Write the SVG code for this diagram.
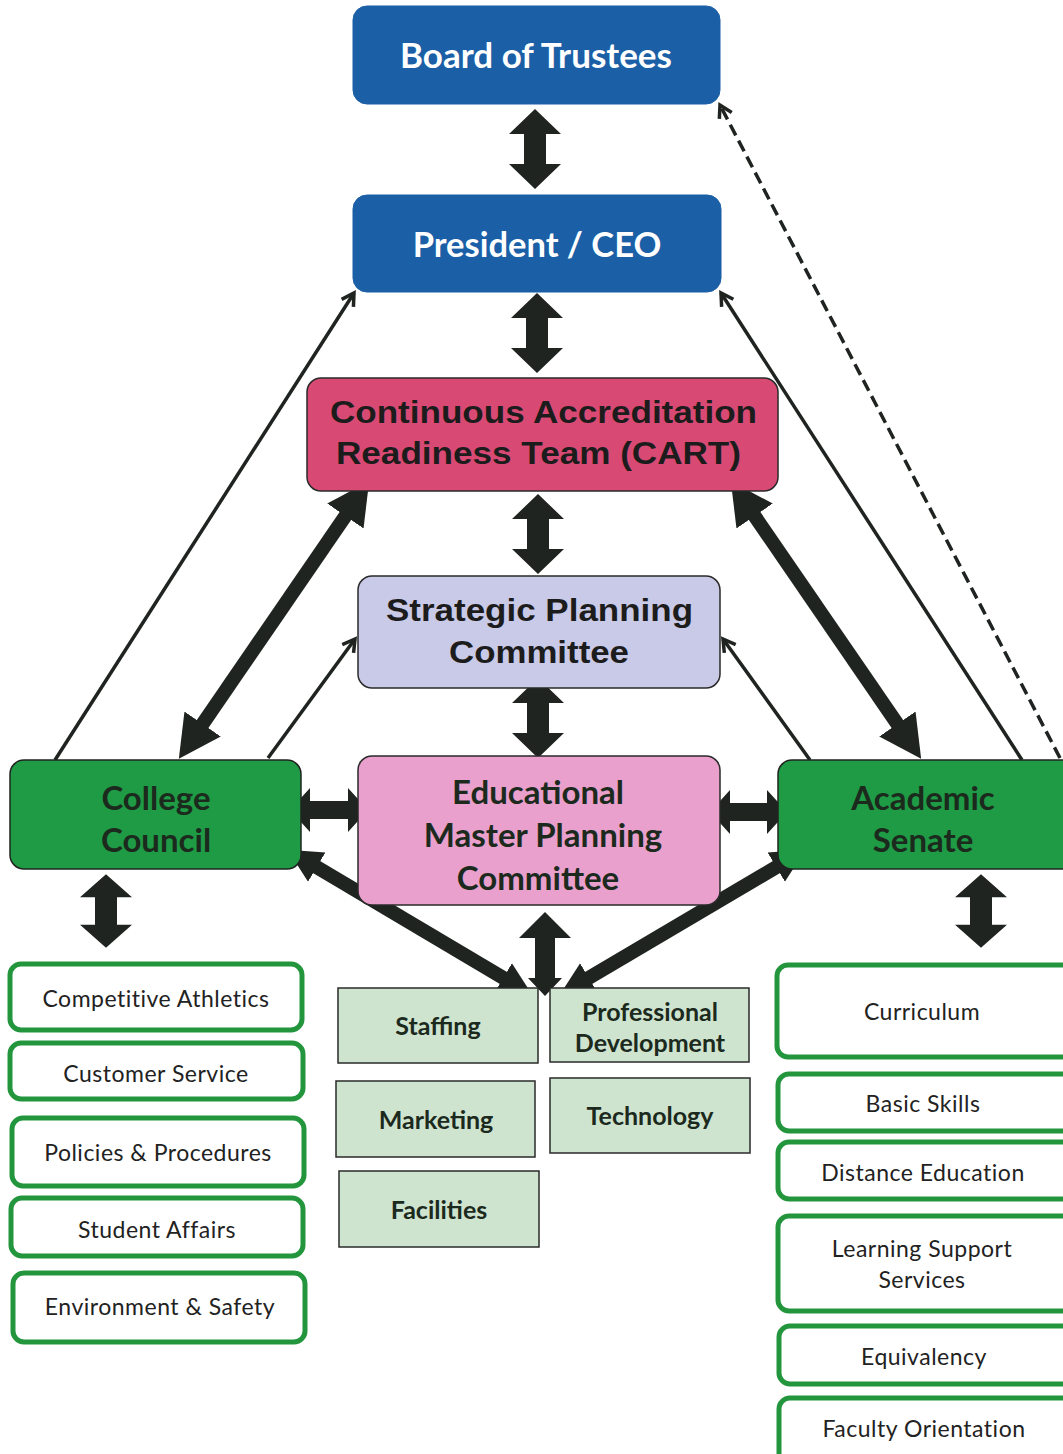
<svg xmlns="http://www.w3.org/2000/svg" xmlns:xlink="http://www.w3.org/1999/xlink" width="1063" height="1454" viewBox="0 0 1063 1454">
<style>
.blue{fill:#1b5fa6;stroke:#1b5fa6;stroke-width:1}
.bt{font-family:Lato,"Open Sans",sans-serif;font-weight:bold;fill:#fff;text-anchor:middle}
.ar{font-family:"Liberation Sans",Arial,sans-serif;font-weight:bold;fill:#1c1c1c;text-anchor:middle;font-size:31px}
.cb{font-family:Lato,"Open Sans",sans-serif;font-weight:bold;fill:#1c2a1e;text-anchor:middle}
.cr{font-family:Lato,"Open Sans",sans-serif;fill:#222;text-anchor:middle;font-size:23px;letter-spacing:0.5px}
.sub{fill:#fff;stroke:#23963d;stroke-width:5}
.lg{fill:#cfe4cf;stroke:#2a2a2a;stroke-width:1.5}
.lgt{font-family:Lato,"Open Sans",sans-serif;font-weight:bold;fill:#1c2a1e;text-anchor:middle;font-size:25px}
.blk{fill:#1f2420}
.thin{stroke:#1f2420;stroke-width:3.5;fill:none}
.thick{stroke:#1f2420;stroke-width:14;fill:none}
</style>
<defs>
<path id="dbl" d="M0,-40 L26,-15 L11,-15 L11,15 L26,15 L0,40 L-26,15 L-11,15 L-11,-15 L-26,-15 Z"/>
<marker id="chev" markerUnits="userSpaceOnUse" markerWidth="20" markerHeight="20" viewBox="0 0 20 20" refX="14" refY="10" orient="auto">
<path d="M2,3 L14,10 L2,17" fill="none" stroke="#1f2420" stroke-width="3.5"/>
</marker>
<marker id="big" markerUnits="userSpaceOnUse" markerWidth="44" markerHeight="48" viewBox="0 0 44 48" refX="20" refY="24" orient="auto-start-reverse">
<path d="M0,2 L42,24 L0,46 Z" fill="#1f2420"/>
</marker>
<marker id="mid" markerUnits="userSpaceOnUse" markerWidth="36" markerHeight="40" viewBox="0 0 36 40" refX="16" refY="20" orient="auto-start-reverse">
<path d="M0,3 L34,20 L0,37 Z" fill="#1f2420"/>
</marker>
</defs>

<g id="connectors">
<line class="thin" x1="55" y1="760" x2="354" y2="293" marker-end="url(#chev)"/>
<line class="thin" x1="268" y1="758" x2="355" y2="639" marker-end="url(#chev)"/>
<line class="thin" x1="1022" y1="760" x2="721" y2="293" marker-end="url(#chev)"/>
<line class="thin" x1="810" y1="760" x2="723" y2="639" marker-end="url(#chev)"/>
<line class="thin" x1="1060" y1="758" x2="720" y2="105" stroke-width="4" stroke-dasharray="12,6" marker-end="url(#chev)"/>
<line class="thick" x1="191.3" y1="740.5" x2="356.7" y2="499.5" marker-start="url(#big)" marker-end="url(#big)"/>
<line class="thick" x1="743.3" y1="499.5" x2="908.7" y2="740.5" marker-start="url(#big)" marker-end="url(#big)"/>
<line class="thick" x1="303" y1="859" x2="517" y2="986" marker-start="url(#mid)" marker-end="url(#mid)"/>
<line class="thick" x1="790" y1="859" x2="575" y2="986" marker-start="url(#mid)" marker-end="url(#mid)"/>
<use xlink:href="#dbl" class="blk" transform="translate(535,149)"/>
<use xlink:href="#dbl" class="blk" transform="translate(537,333)"/>
<use xlink:href="#dbl" class="blk" transform="translate(538,534)"/>
<use xlink:href="#dbl" class="blk" transform="translate(538,718)"/>
<path class="blk" d="M290,810 L310,788 L310,801 L348,801 L348,788 L368,810 L348,832 L348,819 L310,819 L310,832 Z"/>
<path class="blk" d="M710,812 L730,790 L730,803 L767,803 L767,790 L787,812 L767,834 L767,821 L730,821 L730,834 Z"/>
<use xlink:href="#dbl" class="blk" transform="translate(106,911) scale(1,0.92)"/>
<use xlink:href="#dbl" class="blk" transform="translate(981,911) scale(1,0.92)"/>
<path class="blk" d="M545,912 L571,938 L555,938 L555,978 L562,978 L545,996 L528,978 L535,978 L535,938 L519,938 Z"/>
</g>

<g id="board">
<rect class="blue" x="353" y="6" width="367" height="98" rx="14"/>
<text class="bt" x="536" y="68" font-size="35">Board of Trustees</text>
</g>
<g id="president">
<rect class="blue" x="353" y="195" width="368" height="97" rx="14"/>
<text class="bt" x="537" y="257" font-size="34.5">President / CEO</text>
</g>
<g id="cart">
<rect x="307" y="378" width="471" height="113" rx="14" fill="#d84a74" stroke="#2a2a2a" stroke-width="1.5"/>
<text class="ar" x="543.5" y="423" textLength="427" lengthAdjust="spacingAndGlyphs">Continuous Accreditation</text>
<text class="ar" x="538.5" y="464" textLength="405" lengthAdjust="spacingAndGlyphs">Readiness Team (CART)</text>
</g>
<g id="spc">
<rect x="358" y="576" width="362" height="112" rx="14" fill="#c9c9e8" stroke="#2a2a2a" stroke-width="1.5"/>
<text class="ar" x="539.5" y="621" textLength="307" lengthAdjust="spacingAndGlyphs">Strategic Planning</text>
<text class="ar" x="539" y="663" textLength="180" lengthAdjust="spacingAndGlyphs">Committee</text>
</g>
<g id="empc">
<rect x="358" y="756" width="362" height="149" rx="14" fill="#e9a0cc" stroke="#2a2a2a" stroke-width="1.5"/>
<text class="cb" x="538" y="804" font-size="33">Educational</text>
<text class="cb" x="543" y="847" font-size="33">Master Planning</text>
<text class="cb" x="538" y="890" font-size="33">Committee</text>
</g>
<g id="college-council">
<rect x="10" y="760" width="291" height="109" rx="14" fill="#1f9a45" stroke="#1f2420" stroke-width="1.5"/>
<text class="cb" x="156" y="810" font-size="33">College</text>
<text class="cb" x="156" y="852" font-size="33">Council</text>
</g>
<g id="academic-senate">
<rect x="778" y="760" width="300" height="109" rx="14" fill="#1f9a45" stroke="#1f2420" stroke-width="1.5"/>
<text class="cb" x="923" y="810" font-size="33">Academic</text>
<text class="cb" x="923" y="852" font-size="33">Senate</text>
</g>

<g id="staffing"><rect class="lg" x="338" y="988" width="200" height="75"/><text class="lgt" x="438" y="1035">Staffing</text></g>
<g id="prof-dev"><rect class="lg" x="550" y="988" width="199" height="74"/><text class="lgt" x="650" y="1021" font-size="22">Professional</text><text class="lgt" x="650" y="1052" font-size="22">Development</text></g>
<g id="marketing"><rect class="lg" x="336" y="1081" width="199" height="76"/><text class="lgt" x="436" y="1129">Marketing</text></g>
<g id="technology"><rect class="lg" x="550" y="1078" width="200" height="75"/><text class="lgt" x="650" y="1125">Technology</text></g>
<g id="facilities"><rect class="lg" x="339" y="1171" width="200" height="76"/><text class="lgt" x="439" y="1219">Facilities</text></g>

<g id="competitive-athletics"><rect class="sub" x="10" y="964" width="292" height="66" rx="11"/><text class="cr" x="156" y="1007">Competitive Athletics</text></g>
<g id="customer-service"><rect class="sub" x="10" y="1043" width="293" height="56" rx="11"/><text class="cr" x="156" y="1082">Customer Service</text></g>
<g id="policies"><rect class="sub" x="12" y="1118" width="292" height="68" rx="11"/><text class="cr" x="158" y="1161">Policies &amp; Procedures</text></g>
<g id="student-affairs"><rect class="sub" x="11" y="1198" width="292" height="58" rx="11"/><text class="cr" x="157" y="1238">Student Affairs</text></g>
<g id="environment"><rect class="sub" x="13" y="1273" width="292" height="69" rx="11"/><text class="cr" x="160" y="1315">Environment &amp; Safety</text></g>

<g id="curriculum"><rect class="sub" x="777" y="965" width="300" height="92" rx="11"/><text class="cr" x="922" y="1020">Curriculum</text></g>
<g id="basic-skills"><rect class="sub" x="778" y="1074" width="300" height="57" rx="11"/><text class="cr" x="923" y="1112">Basic Skills</text></g>
<g id="distance-ed"><rect class="sub" x="778" y="1142" width="300" height="57" rx="11"/><text class="cr" x="923" y="1181">Distance Education</text></g>
<g id="learning-support"><rect class="sub" x="778" y="1216" width="300" height="95" rx="11"/><text class="cr" x="922" y="1257">Learning Support</text><text class="cr" x="922" y="1288">Services</text></g>
<g id="equivalency"><rect class="sub" x="779" y="1326" width="300" height="58" rx="11"/><text class="cr" x="924" y="1365">Equivalency</text></g>
<g id="faculty-orientation"><rect class="sub" x="779" y="1398" width="300" height="70" rx="11"/><text class="cr" x="924" y="1437">Faculty Orientation</text></g>
</svg>
